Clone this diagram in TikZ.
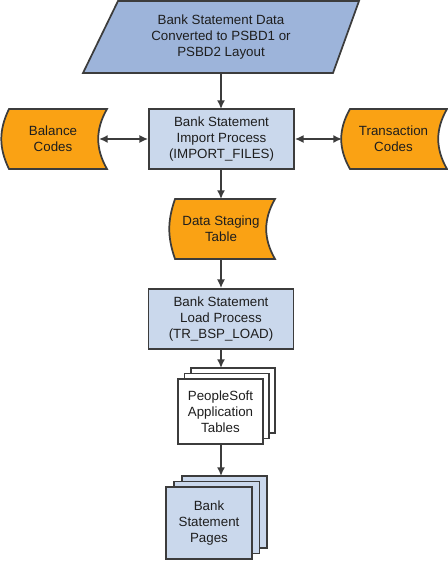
\documentclass[tikz,border=0pt]{standalone}
\usepackage{fontspec}
\setmainfont{Liberation Sans}
\usetikzlibrary{arrows.meta}
\definecolor{orng}{RGB}{250,162,20}
\definecolor{pblue}{RGB}{157,180,218}
\definecolor{lblue}{RGB}{202,216,236}
\definecolor{edge}{RGB}{60,60,60}
\definecolor{txt}{RGB}{30,30,30}
\tikzset{
  shp/.style={draw=edge, line width=1.3pt, line join=miter},
  lbl/.style={align=center, inner sep=0pt, text=txt, font=\fontsize{10}{12}\selectfont},
  procbox/.style={shp, fill=lblue, minimum width=108.75pt, minimum height=45pt, lbl},
  conn/.style={draw=edge, line width=1.2pt, -{Latex[length=6.5pt,width=6pt]}},
  dconn/.style={draw=edge, line width=1.2pt, {Latex[length=6.5pt,width=6pt]}-{Latex[length=6.5pt,width=6pt]}},
}
\begin{document}
\begin{tikzpicture}[x=0.75pt,y=-0.75pt]
\useasboundingbox (0,0) rectangle (448,561);
% parallelogram
\draw[shp, fill=pblue] (118,1) -- (359,1) -- (333,73) -- (83,73) -- cycle;
\node[lbl] (src) at (221,37) {Bank Statement Data\\Converted to PSBD1 or\\PSBD2 Layout};
\coordinate (srcS) at (221,73);
% import process
\node[procbox] (imp) at (221.5,139) {Bank Statement\\Import Process\\(IMPORT\_FILES)};
\coordinate (impN) at (221,109);
\coordinate (impS) at (221,169);
% balance codes
\draw[shp, fill=orng] (9,109) -- (107,109) to[bend right=30] (107,169) -- (9,169) to[bend left=26] (9,109) -- cycle;
\node[lbl] (bal) at (53,139) {Balance\\Codes};
\coordinate (balE) at (99,139);
% transaction codes
\draw[shp, fill=orng] (350,109) -- (447,109) to[bend right=30] (447,169) -- (350,169) to[bend left=30] (350,109) -- cycle;
\node[lbl] (trn) at (393.5,139) {Transaction\\Codes};
\coordinate (trnW) at (342,139);
% staging
\draw[shp, fill=orng] (175,199) -- (275,199) to[bend right=30] (275,259) -- (175,259) to[bend left=19] (175,199) -- cycle;
\node[lbl] (stg) at (221,229) {Data Staging\\Table};
\coordinate (stgN) at (221,199);
\coordinate (stgS) at (221,259);
% load process
\node[procbox] (load) at (221,319) {Bank Statement\\Load Process\\(TR\_BSP\_LOAD)};
% application tables
\draw[shp, fill=white] (191,368) rectangle (275,433);
\draw[shp, fill=white] (184.5,373.5) rectangle (269,438.5);
\node[shp, fill=white, minimum width=63.75pt, minimum height=48.75pt, lbl] (tbl) at (220.5,411.5) {PeopleSoft\\Application\\Tables};
\coordinate (tblN) at (221,368);
\coordinate (tblS) at (221,444);
% pages
\draw[shp, fill=lblue] (182,476) rectangle (267,548);
\draw[shp, fill=lblue] (174,481.5) rectangle (259.5,553.5);
\node[shp, fill=lblue, minimum width=64.5pt, minimum height=54pt, lbl] (pg) at (209,523) {Bank\\Statement\\Pages};
\coordinate (pgN) at (221,476);
% connectors
\draw[conn] (srcS) -- (impN);
\draw[dconn] (balE) -- (imp.west);
\draw[dconn] (imp.east) -- (trnW);
\draw[conn] (impS) -- (stgN);
\draw[conn] (stgS) -- (load.north);
\draw[conn] (load.south) -- (tblN);
\draw[conn] (tblS) -- (pgN);
\end{tikzpicture}
\end{document}
